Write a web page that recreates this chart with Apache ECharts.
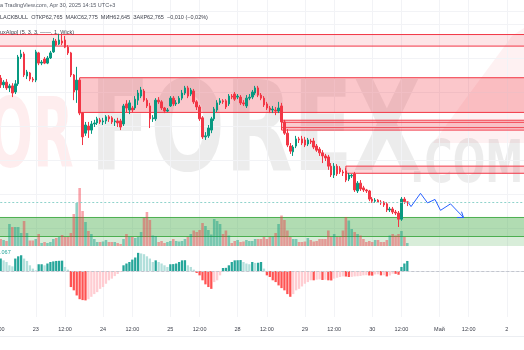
<!DOCTYPE html>
<html><head><meta charset="utf-8">
<script src="https://cdn.jsdelivr.net/npm/echarts/dist/echarts.min.js"></script>
<style>html,body{margin:0;padding:0;background:#fff;overflow:hidden}#c{width:524px;height:350px}</style>
</head><body><div id="c"></div>
<script>
// ---- time axis ----
const days = ['22','23','24','25','28','29','30','Май','2'];
// ---- candles (hourly) ----
const opens = [66.41,66.21,66.29,66.12,66.18,66.00,66.24,67.03,67.12,66.47,
66.56,66.38,66.35,67.15,66.85,66.97,66.85,67.00,67.18,67.50,
67.41,67.50,67.53,67.32,67.15,66.50,66.06,66.35,65.38,64.79,
65.00,64.88,65.06,65.09,65.18,65.12,65.15,65.27,65.24,65.12,
65.15,65.15,65.06,65.65,65.47,65.53,65.53,65.76,65.88,66.03,
65.76,65.59,65.21,65.21,65.76,65.71,65.53,65.44,65.59,65.82,
65.65,65.68,65.82,65.97,66.12,65.94,66.03,65.71,65.56,65.24,
64.68,64.71,64.88,65.21,65.47,65.68,65.74,65.74,65.65,65.88,
65.94,65.85,65.85,65.68,65.59,65.82,65.85,65.97,66.12,65.91,
65.82,65.65,65.53,65.47,65.47,65.44,65.59,65.12,64.79,64.41,
64.24,64.41,64.62,64.62,64.59,64.47,64.56,64.56,64.41,64.32,
64.21,64.12,64.09,63.82,63.56,63.82,63.76,63.65,63.68,63.44,
63.53,63.59,63.09,63.32,63.18,63.12,63.09,62.85,62.79,62.82,
62.76,62.76,62.71,62.53,62.56,62.47,62.44,62.26,62.85,62.765];
const closes = [66.21,66.29,66.12,66.18,65.97,66.24,67.03,67.12,66.50,66.59,
66.38,66.35,67.18,66.85,66.88,66.85,67.00,67.15,67.50,67.38,
67.53,67.44,67.32,67.15,66.50,66.00,66.35,65.38,64.68,65.03,
64.88,65.06,65.09,65.21,65.12,65.15,65.27,65.21,65.12,65.15,
65.09,64.97,65.59,65.53,65.68,65.47,65.79,65.97,66.06,65.76,
65.59,65.21,65.24,65.76,65.71,65.53,65.44,65.47,65.82,65.65,
65.68,65.82,65.97,66.12,65.88,66.06,65.71,65.56,65.21,64.68,
64.71,64.94,65.21,65.50,65.68,65.74,65.71,65.56,65.88,65.85,
65.79,65.88,65.68,65.65,65.82,65.85,66.00,66.12,65.91,65.82,
65.62,65.53,65.47,65.50,65.44,65.53,65.12,64.79,64.44,64.26,
64.38,64.62,64.59,64.50,64.44,64.59,64.53,64.38,64.29,64.21,
64.12,64.06,63.82,63.56,63.82,63.59,63.65,63.62,63.41,63.56,
63.55,63.12,63.32,63.15,63.12,63.09,62.85,62.79,62.82,62.76,
62.74,62.68,62.53,62.56,62.47,62.44,62.26,62.85,62.775,62.765];
const lows = [66.12,66.12,66.06,66.00,65.85,65.94,66.18,66.97,66.44,66.38,
66.32,66.29,66.29,66.79,66.79,66.82,66.82,66.97,67.15,67.35,
67.38,67.38,67.29,67.09,66.44,65.76,65.68,65.32,64.44,64.71,
64.65,64.77,64.97,65.03,65.06,65.03,65.06,65.12,65.06,65.00,
64.97,64.88,65.00,65.41,65.35,65.41,65.47,65.62,65.82,65.71,
65.53,64.94,65.12,65.15,65.65,65.47,65.38,65.41,65.56,65.59,
65.59,65.65,65.76,65.91,65.82,65.88,65.65,65.47,65.15,64.62,
64.59,64.65,64.79,65.15,65.41,65.62,65.65,65.50,65.59,65.79,
65.74,65.79,65.62,65.59,65.53,65.76,65.79,65.91,65.85,65.76,
65.56,65.47,65.38,65.38,65.32,65.38,65.03,64.74,64.38,64.18,
64.12,64.35,64.50,64.44,64.38,64.41,64.47,64.32,64.24,64.12,
63.91,63.97,63.71,63.50,63.47,63.53,63.59,63.53,63.35,63.38,
63.47,63.06,63.03,63.09,63.06,63.03,62.79,62.74,62.74,62.74,
62.68,62.62,62.47,62.47,62.41,62.38,62.03,62.21,62.71,62.645];
const highs = [66.50,66.35,66.38,66.24,66.26,66.35,67.09,67.24,67.18,66.65,
66.59,66.44,67.24,67.18,66.94,67.03,67.06,67.21,67.59,67.56,
67.71,67.68,67.65,67.38,67.18,66.53,66.74,66.41,65.41,65.12,
65.12,65.15,65.18,65.27,65.24,65.24,65.32,65.32,65.29,65.21,
65.24,65.21,65.65,65.76,65.76,65.59,65.88,66.06,66.15,66.09,
65.82,65.68,65.32,65.82,65.85,65.76,65.56,65.53,65.88,65.88,
65.76,65.88,66.06,66.18,66.18,66.12,66.09,65.76,65.62,65.29,
64.82,65.03,65.27,65.56,65.76,65.82,65.79,65.79,65.94,65.94,
66.00,65.94,65.91,65.76,65.91,65.94,66.06,66.18,66.18,65.97,
65.88,65.71,65.59,65.59,65.56,65.71,65.68,65.18,64.91,64.50,
64.44,64.71,64.68,64.71,64.68,64.65,64.62,64.65,64.47,64.38,
64.29,64.18,64.15,63.91,63.91,63.88,63.82,63.71,63.76,63.62,
63.59,63.65,63.38,63.41,63.24,63.15,63.12,62.91,62.88,62.85,
62.82,62.79,62.76,62.62,62.62,62.53,62.50,62.91,62.91,62.775];
const volumes = [700,600,500,2200,1900,1900,1900,1300,2500,1300,
550,550,700,1200,300,400,300,400,700,800,
900,1100,900,900,1300,3200,4300,5800,3500,2400,
1500,1200,700,400,400,450,600,400,400,400,
300,200,700,1200,900,900,800,900,1400,2800,
3400,2600,1050,1000,400,500,300,400,500,700,
500,450,500,700,900,1200,1550,1400,1600,2300,
2000,1600,1150,2700,2500,2200,1200,1550,1050,300,
500,600,400,450,600,500,500,700,700,700,
900,700,900,900,1300,2200,3050,2600,1550,900,
700,700,400,400,450,800,600,450,500,700,
700,700,1550,900,1200,900,900,1550,2900,2550,
1700,1400,1200,1050,700,400,500,400,600,600,
400,400,600,1050,1200,1050,1200,1500,900,300];
const osc = [0.083,0.071,0.060,0.038,0.031,0.083,0.098,0.105,0.083,0.067,
0.038,0.016,0.005,0.045,0.045,0.038,0.050,0.060,0.064,0.067,
0.068,0.069,0.027,0.009,-0.107,-0.129,-0.163,-0.188,-0.194,-0.196,
-0.188,-0.172,-0.154,-0.141,-0.119,-0.107,-0.085,-0.062,-0.051,-0.034,
-0.020,-0.007,0.038,0.050,0.060,0.076,0.090,0.121,0.117,0.112,
0.098,0.083,0.060,0.071,0.060,0.050,0.038,0.027,0.045,0.046,
0.050,0.060,0.071,0.072,0.038,0.027,0.009,-0.013,-0.029,-0.062,
-0.089,-0.107,-0.119,-0.074,-0.062,-0.029,0.020,0.021,0.038,0.060,
0.071,0.072,0.073,0.060,0.050,0.045,0.060,0.054,0.055,0.060,
0.016,-0.029,-0.040,-0.062,-0.074,-0.096,-0.114,-0.129,-0.154,-0.172,
-0.154,-0.129,-0.119,-0.103,-0.085,-0.074,-0.062,-0.062,-0.058,-0.056,
-0.060,-0.058,-0.062,-0.063,-0.051,-0.045,-0.040,-0.036,-0.037,-0.040,
-0.039,-0.036,-0.035,-0.033,-0.029,-0.028,-0.030,-0.031,-0.023,-0.022,
-0.029,-0.028,-0.036,-0.030,-0.018,-0.019,-0.025,0.027,0.050,0.067];
// ---- zones (price levels, start category) ----
const supplyTop = [67.69, 66.42, 65.17, 65.11, 63.82];
const supplyBot = [67.35, 65.40, 64.95, 64.88, 63.61];
const supplyStart = [0, 28, 97, 97, 119];
const demandTop = 62.31, demandBot = 61.75, demandLow = 61.30;
const lastPrice = 62.765;
// ---- projection arrow (category index, price) ----
const arrowIdx = [140.41, 141.27, 144.51, 146.90, 149.47, 151.35, 154.77, 159.21];
const arrowPrice = [62.74, 62.63, 63.02, 62.74, 62.84, 62.52, 62.71, 62.31];
const headIdx = [157.0, 159.21, 158.53];
const headPrice = [62.31, 62.31, 62.48];
// ---- texts ----
const title1 = 'a TradingView.com, Apr 30, 2025 14:15 UTC+3';
const title2 = 'LACKBULL  ОТКР62,765  МАКС62,775  МИН62,645  ЗАКР62,765  −0,010 (−0,02%)';
const title3 = 'uxAlgo] (5, 3, 3, ——, 1, Wick)';
const oscLabel = '.067';
const wm1 = 'OR', wm2 = 'FOREX', wm3 = '.COM';

// build categories
const cats = [];
days.forEach((d, k) => {
  const s0 = k === 0 ? 10 : 0;
  const s1 = k === days.length - 1 ? 7 : 22;
  for (let s = s0; s <= s1; s++) cats.push(d + '|' + s);
});
const lab = v => { const p = String(v).split('|'); return p[1] === '0' ? p[0] : (p[1] === '10' ? '12:00' : ''); };
const ivl = (i, v) => lab(v) !== '';

const W = 2.9255, L0 = -3.73, GW = cats.length * W;
const PMAX = 68.706, PMIN = 61.471, MAINH = 246;
const yOf = p => (PMAX - p) / (PMAX - PMIN) * MAINH;

const UP = '#089981', DN = '#f23645';
const candleData = [['-','-','-','-']].concat(opens.map((o, i) => [o, closes[i], lows[i], highs[i]]));
const volData = ['-'].concat(volumes.map((v, i) => ({value: v, itemStyle: {color: closes[i] >= opens[i] ? 'rgba(8,153,129,0.45)' : 'rgba(242,54,69,0.45)'}})));
const oscData = ['-'].concat(osc.map((v, i) => {
  const prev = i > 0 ? osc[i - 1] : v;
  let c;
  if (v >= 0) c = v >= prev ? '#26a69a' : '#b2dfdb';
  else c = v <= prev ? '#ff5252' : '#ffcdd2';
  return {value: v, itemStyle: {color: c}};
}));
const last = cats.length - 1;
const fills = ['rgba(242,54,69,0.13)', 'rgba(242,54,69,0.28)', 'rgba(242,54,69,0.14)', 'rgba(242,54,69,0.14)', 'rgba(242,54,69,0.2)'];
const supplyAreas = supplyTop.map((t, k) => [
  {xAxis: supplyStart[k], yAxis: t, itemStyle: {color: fills[k], borderColor: '#f23645', borderWidth: 1}},
  {xAxis: last, yAxis: supplyBot[k]}
]);
const demandAreas = [
  [{xAxis: 0, yAxis: demandTop, itemStyle: {color: 'rgba(76,175,80,0.28)', borderColor: '#4caf50', borderWidth: 1}}, {xAxis: last, yAxis: demandBot}],
  [{xAxis: 0, yAxis: demandTop, itemStyle: {color: 'rgba(76,175,80,0.22)', borderWidth: 0}}, {xAxis: last, yAxis: demandLow}]
];

const font = 'Liberation Sans';
const gridBase = {outerBoundsMode: 'none', containLabel: false};
const chart = echarts.init(document.getElementById('c'), null, {renderer: 'canvas'});
chart.setOption({
  animation: false,
  backgroundColor: '#ffffff',
  grid: [
    Object.assign({left: L0, top: 0, width: GW, height: MAINH}, gridBase),
    Object.assign({left: L0, top: MAINH, width: GW, height: 71}, gridBase),
    Object.assign({left: L0, top: yOf(68), width: GW, height: yOf(62) - yOf(68)}, gridBase)
  ],
  xAxis: [
    {type: 'category', gridIndex: 0, data: cats, boundaryGap: true, axisLine: {show: false}, axisTick: {show: false}, axisLabel: {show: false},
     splitLine: {show: true, interval: ivl, alignWithLabel: true, lineStyle: {color: '#f2f3f6', width: 1}}},
    {type: 'category', gridIndex: 1, data: cats, boundaryGap: true, axisLine: {show: true, lineStyle: {color: '#e6e8ee'}}, axisTick: {show: false},
     axisLabel: {show: true, interval: ivl, formatter: lab, fontSize: 5.5, fontFamily: font, color: '#3c3f4a', margin: 9},
     splitLine: {show: true, interval: ivl, alignWithLabel: true, lineStyle: {color: '#f2f3f6', width: 1}}},
    {type: 'value', gridIndex: 0, min: -0.5, max: cats.length - 0.5, show: false},
    {type: 'category', gridIndex: 2, data: cats, show: false}
  ],
  yAxis: [
    {type: 'value', gridIndex: 0, min: PMIN, max: PMAX, show: false, splitLine: {show: false}},
    {type: 'value', gridIndex: 0, min: 0, max: 24600, show: false, splitLine: {show: false}},
    {type: 'value', gridIndex: 1, min: -0.3067, max: 0.1667, show: false, splitLine: {show: false}},
    {type: 'value', gridIndex: 2, min: 62, max: 68, interval: 1, axisLine: {show: false}, axisTick: {show: false}, axisLabel: {show: false},
     splitLine: {show: true, lineStyle: {color: '#f2f3f6', width: 1}}}
  ],
  graphic: [
    {type: 'polygon', z: 0, silent: true, shape: {points: [[512, 36], [524, 28], [524, 143], [433, 143]]}, style: {fill: 'rgba(242,54,69,0.07)'}},
    {type: 'text', z: 0, silent: true, x: -12, y: 190, scaleX: 0.55, style: {x: 0, y: 0, text: wm1, font: 'bold 96px "DejaVu Sans"', fill: 'rgba(242,54,69,0.09)', textVerticalAlign: 'bottom'}},
    {type: 'text', z: 0, silent: true, x: 90, y: 200, scaleX: 0.71, style: {x: 0, y: 0, text: wm2, font: 'bold 124px "DejaVu Sans"', fill: 'rgba(0,0,0,0.075)', textVerticalAlign: 'bottom'}},
    {type: 'text', z: 0, silent: true, x: 410, y: 196, scaleX: 0.66, style: {x: 0, y: 0, text: wm3, font: 'bold 58px "DejaVu Sans"', fill: 'rgba(0,0,0,0.075)', textVerticalAlign: 'bottom'}},
    {type: 'line', z: 1, silent: true, shape: {x1: 0, y1: 11.5, x2: 524, y2: 11.5}, style: {stroke: '#f2f3f6', lineWidth: 1}},
    {type: 'line', z: 1, silent: true, shape: {x1: 0, y1: 336.5, x2: 524, y2: 336.5}, style: {stroke: '#eceef2', lineWidth: 1}},
    {type: 'text', z: 10, style: {x: 0, y: 5, text: title1, font: '5.5px "Liberation Sans"', fill: '#555a66', textVerticalAlign: 'middle'}},
    {type: 'text', z: 10, style: {x: 0, y: 17, text: title2, font: '5.5px "Liberation Sans"', fill: '#3c3f4a', textVerticalAlign: 'middle'}},
    {type: 'text', z: 10, style: {x: 0, y: 32, text: title3, font: '5.5px "Liberation Sans"', fill: '#3c3f4a', textVerticalAlign: 'middle'}},
    {type: 'text', z: 10, style: {x: 0, y: 252, text: oscLabel, font: '5.5px "Liberation Sans"', fill: '#26a69a', textVerticalAlign: 'middle'}}
  ],
  series: [
    {type: 'bar', name: 'vol', xAxisIndex: 0, yAxisIndex: 1, data: volData, barWidth: '88%', z: 1, silent: true},
    {type: 'candlestick', xAxisIndex: 0, yAxisIndex: 0, data: candleData, barWidth: 2, z: 3,
     itemStyle: {color: UP, color0: DN, borderColor: UP, borderColor0: DN, borderWidth: 1},
     markArea: {silent: true, data: supplyAreas.concat(demandAreas)},
     markLine: {silent: true, symbol: ['none', 'none'], label: {show: false},
       data: [{yAxis: lastPrice, lineStyle: {color: '#8fd3cb', type: [2, 2], width: 1}}]}},
    {type: 'bar', xAxisIndex: 1, yAxisIndex: 2, data: oscData, barWidth: '78%', silent: true,
     markLine: {silent: true, symbol: ['none', 'none'], label: {show: false},
       data: [{yAxis: 0, lineStyle: {color: '#c3c6ce', type: [3, 2], width: 1}}]}},
    {type: 'line', xAxisIndex: 2, yAxisIndex: 0, data: arrowIdx.map((x, i) => [x, arrowPrice[i]]), symbol: 'none', z: 5,
     lineStyle: {color: '#2962ff', width: 1}},
    {type: 'line', xAxisIndex: 2, yAxisIndex: 0, data: headIdx.map((x, i) => [x, headPrice[i]]), symbol: 'none', z: 5,
     lineStyle: {color: '#2962ff', width: 1}},
    {type: 'line', xAxisIndex: 3, yAxisIndex: 3, data: []}
  ]
});
</script></body></html>
